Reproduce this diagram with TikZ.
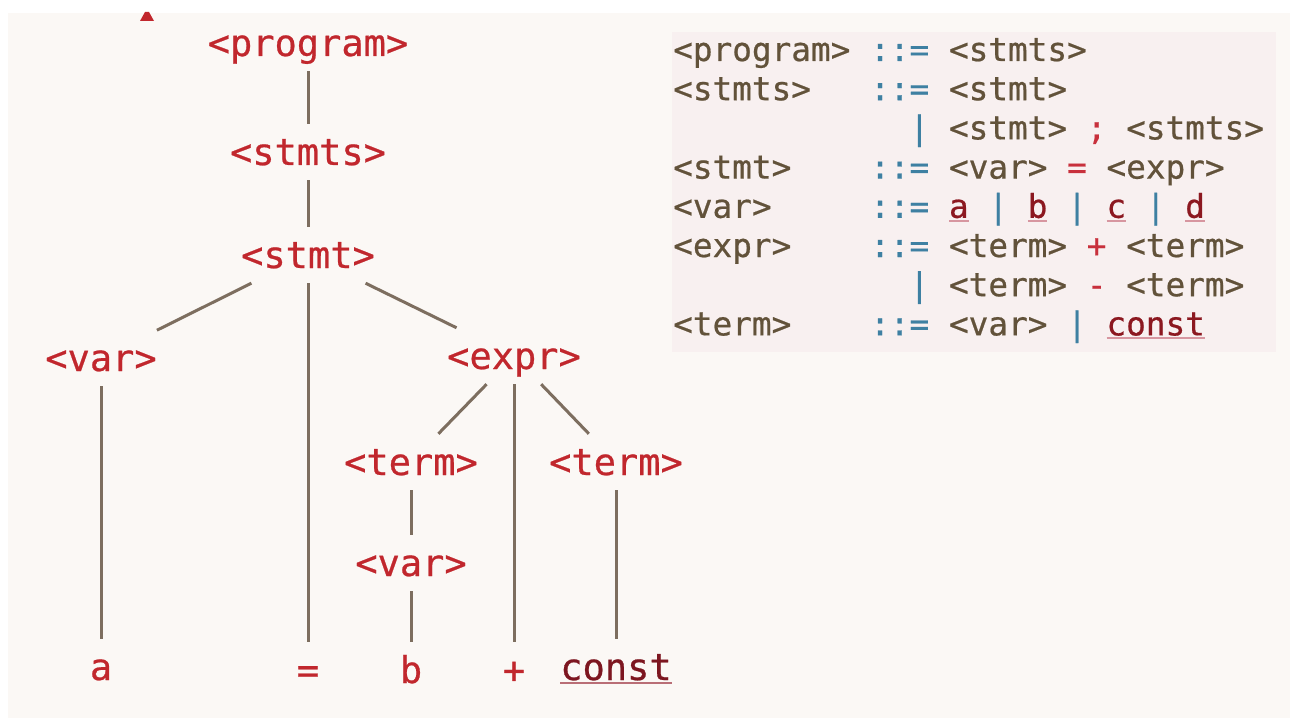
\documentclass[tikz,border=0pt]{standalone}
\usepackage{fontspec}
\newfontfamily\monofont[FakeBold=0.6]{DejaVu Sans Mono}

\definecolor{panelbg}{RGB}{251,248,245}
\definecolor{gramboxbg}{RGB}{248,240,240}
\definecolor{treered}{RGB}{193,39,45}
\definecolor{treeline}{RGB}{125,110,95}
\definecolor{constred}{RGB}{125,22,32}
\definecolor{constul}{RGB}{185,110,118}
\definecolor{ntbrown}{RGB}{98,82,58}
\definecolor{opteal}{RGB}{62,128,162}
\definecolor{tmred}{RGB}{200,48,60}
\definecolor{litred}{RGB}{140,24,32}
\definecolor{litul}{RGB}{215,150,160}

% underlined word: colour of the rule, then the text
\newcommand\ulword[2]{\setbox0\hbox{#2}\rlap{\color{#1}\rule[-4pt]{\wd0}{2pt}}\box0\relax}
\newcommand\op[1]{{\color{opteal}#1}}
\newcommand\tm[1]{{\color{tmred}#1}}
\newcommand\lit[1]{\ulword{litul}{\color{litred}#1}}

\tikzset{
  treenode/.style={font=\monofont\fontsize{37}{40}\selectfont, text=treered,
    inner sep=0pt, text height=41pt, text depth=15pt, anchor=base},
  edge/.style={draw=treeline, line width=3pt},
  gram/.style={font=\monofont\fontsize{32.7}{39}\selectfont, text=ntbrown,
    inner sep=0pt, anchor=base west},
}

\begin{document}
\begin{tikzpicture}[x=1pt,y=-1pt]
\useasboundingbox (0,0) rectangle (1290,722);
\fill[white] (0,0) rectangle (1290,722);
\fill[panelbg] (8,13) rectangle (1290,718);
% small red mark at the top edge
\fill[treered] (140,21) -- (154,21) -- (149,12) -- (145,12) -- cycle;

% ---------- parse tree ----------
\node[treenode] (prog)  at (308,56)  {<program>};
\node[treenode] (stmts) at (308,165) {<stmts>};
\node[treenode] (stmt)  at (308,268) {<stmt>};
\node[treenode] (var1)  at (101,371) {<var>};
\node[treenode] (expr)  at (514,369) {<expr>};
\node[treenode] (term1) at (411,475) {<term>};
\node[treenode] (term2) at (616,475) {<term>};
\node[treenode] (var2)  at (411,576) {<var>};
\node[treenode] (ta)    at (101,680) {a};
\node[treenode] (teq)   at (308,683) {=};
\node[treenode] (tb)    at (411,683) {b};
\node[treenode] (tplus) at (514,683) {+};
\node[treenode] (tconst) at (616,680) {\ulword{constul}{\color{constred}const}};

\draw[edge] (prog) -- (stmts);
\draw[edge] (stmts) -- (stmt);
\draw[edge] (stmt) -- (var1);
\draw[edge] (stmt.south) -- (teq.north);
\draw[edge] (stmt) -- (expr);
\draw[edge] (var1.south) -- (ta.north);
\draw[edge] (expr) -- (term1);
\draw[edge] (expr.south) -- (tplus.north);
\draw[edge] (expr) -- (term2);
\draw[edge] (term1) -- (var2);
\draw[edge] (var2) -- (tb);
\draw[edge] (term2.south) -- (tconst.north);

% ---------- grammar ----------
\fill[gramboxbg] (672,32) rectangle (1276,352);

\node[gram] (g1l) at (673,61)    {<program>};
\node[gram] (g1o) at (870,61)    {\op{::=}};
\node[gram] (g1r) at (948.8,61)  {<stmts>};

\node[gram] (g2l) at (673,100.2)   {<stmts>};
\node[gram] (g2o) at (870,100.2)   {\op{::=}};
\node[gram] (g2r) at (948.8,100.2) {<stmt>};

\node[gram] (g3o) at (909.4,139.4) {\op{|}};
\node[gram] (g3r) at (948.8,139.4) {<stmt> \tm{;} <stmts>};

\node[gram] (g4l) at (673,178.6)   {<stmt>};
\node[gram] (g4o) at (870,178.6)   {\op{::=}};
\node[gram] (g4r) at (948.8,178.6) {<var> \tm{=} <expr>};

\node[gram] (g5l) at (673,217.8)   {<var>};
\node[gram] (g5o) at (870,217.8)   {\op{::=}};
\node[gram] (g5r) at (948.8,217.8) {\lit{a} \op{|} \lit{b} \op{|} \lit{c} \op{|} \lit{d}};

\node[gram] (g6l) at (673,257)   {<expr>};
\node[gram] (g6o) at (870,257)   {\op{::=}};
\node[gram] (g6r) at (948.8,257) {<term> \tm{+} <term>};

\node[gram] (g7o) at (909.4,296.2) {\op{|}};
\node[gram] (g7r) at (948.8,296.2) {<term> \tm{-} <term>};

\node[gram] (g8l) at (673,335.4)   {<term>};
\node[gram] (g8o) at (870,335.4)   {\op{::=}};
\node[gram] (g8r) at (948.8,335.4) {<var> \op{|} \lit{const}};
\end{tikzpicture}
\end{document}
